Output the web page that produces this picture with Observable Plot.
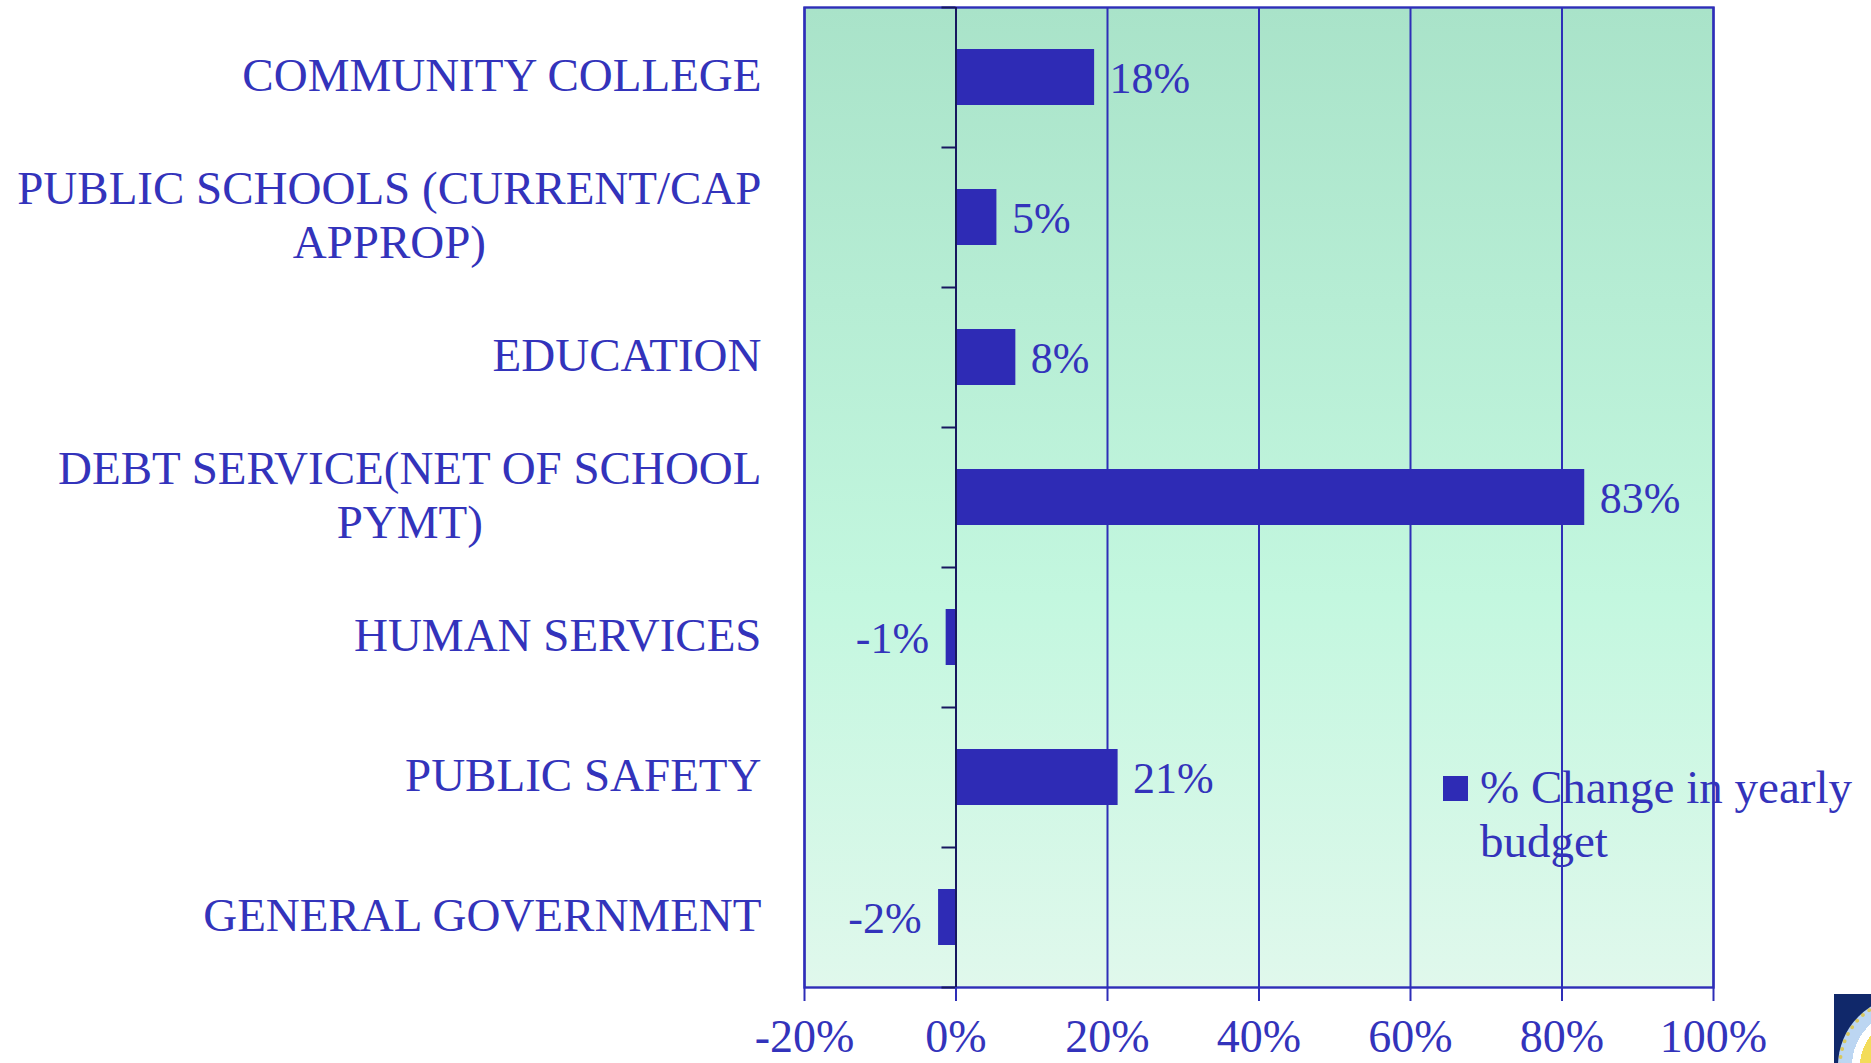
<!DOCTYPE html>
<html>
<head>
<meta charset="utf-8">
<script src="https://cdn.jsdelivr.net/npm/d3@7"></script>
<script src="https://cdn.jsdelivr.net/npm/@observablehq/plot@0.6"></script>
<style>
html,body{margin:0;padding:0;background:#fff;overflow:hidden}
#wrap{position:relative;width:1871px;height:1063px;overflow:hidden;font-family:"Liberation Serif",serif;color:#3333bb}
#legend{position:absolute;left:1443px;top:760px;display:flex;align-items:flex-start}
#legend i{display:block;width:25px;height:25px;background:#2e2bb5;margin:16px 12px 0 0}
#legend span{font-size:47px;line-height:54px;width:390px}
#seal{position:absolute;left:1834px;top:994px;width:37px;height:69px;background:#10286a;overflow:hidden}
#seal b{position:absolute;left:4px;top:2px;width:140px;height:140px;border-radius:50%;background:radial-gradient(circle,#f3dc5a 0 48px,#ffffff 48px 56px,#bcd6f2 56px);border:4px dotted #d8c860;box-sizing:border-box}
</style>
</head>
<body>
<div id="wrap">
<div id="chart"></div>
<div id="legend"><i></i><span>% Change in yearly budget</span></div>
<div id="seal"><b></b></div>
</div>
<script>
const categories = ["COMMUNITY COLLEGE","PUBLIC SCHOOLS (CURRENT/CAP\nAPPROP)","EDUCATION","DEBT SERVICE(NET OF SCHOOL\nPYMT)","HUMAN SERVICES","PUBLIC SAFETY","GENERAL GOVERNMENT"];
const values = [18.3, 5.4, 7.9, 83.0, -1.3, 21.4, -2.3];
const valueLabels = ["18%","5%","8%","83%","-1%","21%","-2%"];
const xTicks = [-20,0,20,40,60,80,100];
const rows = categories.map((c,i)=>({category:c,value:values[i],label:valueLabels[i]}));
const ink = "#2e2eb8", bar = "#2e2bb5", textInk = "#3333bb", zero = "#17175f";

const gradient = () => {
  const s = d3.create("svg:defs");
  const g = s.append("linearGradient").attr("id","bg").attr("x1",0).attr("x2",0).attr("y1",0).attr("y2",1);
  [[0,"#a9e3c9"],[0.6,"#c3f7df"],[1,"#e0f8ec"]].forEach(([o,c])=>g.append("stop").attr("offset",o).attr("stop-color",c));
  return s.node();
};

const chart = Plot.plot({
  width:1871, height:1063,
  marginLeft:804, marginRight:158, marginTop:7, marginBottom:76,
  style:{fontFamily:"'Liberation Serif',serif",fontSize:"47px",background:"transparent",color:textInk,overflow:"visible"},
  x:{domain:[-20,100],label:null},
  y:{domain:categories,paddingInner:0.6,paddingOuter:0.3,label:null},
  marks:[
    gradient,
    Plot.frame({fill:"url(#bg)",stroke:null}),
    Plot.gridX(xTicks,{stroke:ink,strokeOpacity:1,strokeWidth:2}),
    Plot.frame({stroke:ink,strokeWidth:2.4}),
    Plot.barX(rows,{x:"value",y:"category",fill:bar}),
    Plot.ruleX([0],{stroke:zero,strokeWidth:2}),
    Plot.ruleY(categories,{y:d=>d,x1:-1.85,x2:0,dy:-70,stroke:zero,strokeWidth:2}),
    Plot.ruleY(categories.slice(-1),{y:d=>d,x1:-1.85,x2:0,dy:70,stroke:zero,strokeWidth:2}),
    Plot.text(rows.filter(d=>d.value>=0),{x:"value",y:"category",text:"label",textAnchor:"start",dx:15,dy:1,fill:textInk,fontSize:44}),
    Plot.text(rows.filter(d=>d.value<0),{x:"value",y:"category",text:"label",textAnchor:"end",dx:-17,dy:1,fill:textInk,fontSize:44}),
    Plot.axisX({ticks:xTicks,tickFormat:d=>d+"%",tickSize:14,tickPadding:18,stroke:ink,strokeWidth:2,strokeOpacity:1,fill:textInk,fontSize:46,label:null}),
    Plot.axisY({tickSize:0,tickPadding:0,marginLeft:804,label:null,fill:textInk,fontSize:47,lineHeight:1.15,lineWidth:Infinity,dx:-43,dy:-4})
  ]
});
document.getElementById("chart").appendChild(chart);

// multi-line category labels: second line is centred under the first
d3.select(chart).selectAll("text").each(function(){
  const sp=this.querySelectorAll("tspan");
  if(sp.length===2){
    const a=sp[0].getComputedTextLength(), b=sp[1].getComputedTextLength();
    sp[1].setAttribute("x",-(a-b)/2);
  }
});
</script>
</body>
</html>
